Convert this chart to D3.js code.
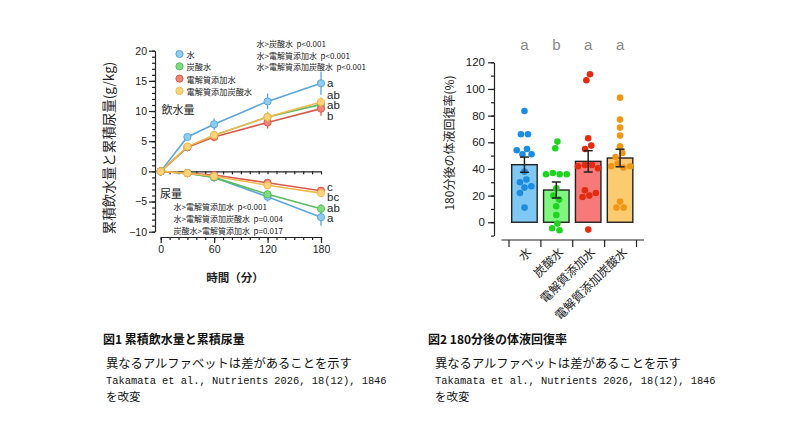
<!DOCTYPE html>
<html>
<head>
<meta charset="utf-8">
<script src="https://cdn.jsdelivr.net/npm/d3@7"></script>
<style>
  body { margin: 0; background: #fff; }
  svg { display: block; font-family: "Noto Sans CJK JP", "Noto Sans", sans-serif; }
  .axis path, .axis line { stroke: #222; stroke-width: 1.2; }
  .axis text { fill: #222; font-family: Arial, "Liberation Sans", sans-serif; }
</style>
</head>
<body>
<svg id="chart" width="810" height="427"></svg>
<script>
// ---- 図1 data ----
const times = [0, 30, 60, 120, 180];
const groups = ["水", "炭酸水", "電解質添加水", "電解質添加炭酸水"];

const drinkWater = [0, 5.7, 7.8, 11.6, 14.6];
const drinkSoda = [0, 4.0, 6.0, 9.0, 11.1];
const drinkElec = [0, 4.0, 5.7, 8.1, 10.4];
const drinkElecSoda = [0, 4.1, 6.0, 9.0, 11.5];

const drinkWaterSem = [0, 0.5, 1.0, 1.3, 1.9];
const drinkSodaSem = [0, 0.3, 0.6, 0.9, 0.9];
const drinkElecSem = [0, 0.3, 0.7, 1.0, 1.2];
const drinkElecSodaSem = [0, 0.3, 0.6, 0.8, 0.8];

const urineWater = [0, -0.3, -1.0, -4.2, -7.6];
const urineSoda = [0, -0.3, -1.0, -3.8, -6.2];
const urineElec = [0, -0.3, -0.6, -1.9, -3.2];
const urineElecSoda = [0, -0.3, -0.8, -2.3, -3.6];

const urineWaterSem = [0, 0.1, 0.3, 0.8, 1.4];
const urineSodaSem = [0, 0.1, 0.3, 0.6, 0.8];
const urineElecSem = [0, 0.1, 0.2, 0.4, 0.5];
const urineElecSodaSem = [0, 0.1, 0.2, 0.4, 0.5];

const drinkLetters = ["a", "ab", "b", "ab"];
const urineLetters = ["a", "ab", "c", "bc"];

const drinkStats = ["水>炭酸水  p<0.001", "水>電解質添加水  p<0.001", "水>電解質添加炭酸水  p<0.001"];
const urineStats = ["水>電解質添加水  p<0.001", "水>電解質添加炭酸水  p=0.004", "炭酸水>電解質添加水  p=0.017"];

// ---- 図2 data ----
const recoveryMean = [43.2, 24.2, 45.7, 48.2];
const recoverySem = [5.7, 6.0, 8.0, 6.6];
const recoveryLetters = ["a", "b", "a", "a"];
const recoveryWater = [83.5, 66, 66, 55, 54, 51, 51, 38, 32, 30, 27, 26, 22, 11];
const recoverySoda = [60.5, 55.5, 37, 36, 36, 36, 25.5, 20, 17, 12, 5.5, -1, -4.5, -6];
const recoveryElec = [111, 106.5, 63, 57.5, 55, 43, 43, 42, 40.5, 24, 22, 20, 19, -5.5];
const recoveryElecSoda = [93.5, 77, 71, 65, 57, 52, 49, 44, 42, 42, 41, 15.5, 11, 11];

const lineColors = ["#5ba6d8", "#5cbc60", "#d85c4b", "#f0b94e"];
const markerFills = ["#8fcdf0", "#80dc80", "#ef8676", "#fcd47c"];
const barFills = ["#7ec8f3", "#80f580", "#f87a78", "#fccb70"];
const dotColors = ["#1c8ce0", "#1fd41f", "#e32b12", "#ef9614"];

const svg = d3.select("#chart");

// ================= 図1 =================
const x1 = d3.scaleLinear().domain([0, 180]).range([160.7, 321]);
const y1 = d3.scaleLinear().domain([-10, 20]).range([231.7, 50.7]);

const drink = [drinkWater, drinkSoda, drinkElec, drinkElecSoda];
const drinkSem = [drinkWaterSem, drinkSodaSem, drinkElecSem, drinkElecSodaSem];
const urine = [urineWater, urineSoda, urineElec, urineElecSoda];
const urineSem = [urineWaterSem, urineSodaSem, urineElecSem, urineElecSodaSem];

const left = svg.append("g");

// y axis (offset to the left)
left.append("g").attr("class", "axis")
    .attr("transform", "translate(155,0)")
    .call(d3.axisLeft(y1).tickValues(d3.range(-10, 21, 1)).tickSize(3).tickFormat(""))
    .call(g => g.select(".domain").remove());
left.append("g").attr("class", "axis")
    .attr("transform", "translate(155,0)")
    .call(d3.axisLeft(y1).tickValues([-10, -5, 0, 5, 10, 15, 20]).tickSize(6).tickSizeOuter(0))
    .call(g => g.selectAll("text").attr("font-size", 10.5).attr("x", -8));

// x axis at zero line
left.append("g").attr("class", "axis")
    .attr("transform", `translate(0,${y1(0)})`)
    .call(d3.axisBottom(x1).tickValues(d3.range(0, 181, 10)).tickSize(3).tickSizeOuter(0).tickFormat(""));

// bottom x axis (offset below)
left.append("g").attr("class", "axis")
    .attr("transform", "translate(0,237)")
    .call(d3.axisBottom(x1).tickValues(d3.range(0, 181, 10)).tickSize(3).tickFormat(""))
    .call(g => g.select(".domain").remove());
left.append("g").attr("class", "axis")
    .attr("transform", "translate(0,237)")
    .call(d3.axisBottom(x1).tickValues([0, 60, 120, 180]).tickSize(6).tickSizeOuter(0))
    .call(g => g.selectAll("text").attr("font-size", 10.5).attr("y", 9));

left.append("text")
    .attr("transform", "translate(108,148) rotate(-90)")
    .attr("text-anchor", "middle").attr("dominant-baseline", "central")
    .attr("font-size", 13.5).attr("fill", "#222")
    .text("累積飲水量と累積尿量(g/kg)");

left.append("text")
    .attr("x", 235).attr("y", 282).attr("text-anchor", "middle")
    .attr("font-size", 11.5).attr("font-weight", "bold").attr("fill", "#222")
    .text("時間（分）");

function drawSeries(values, sems, i) {
    const pts = times.map((t, k) => ({ t: t, v: values[k], s: sems[k] }));
    const g = left.append("g");
    g.selectAll(".err").data(pts.filter(d => d.s > 0)).enter().append("line")
        .attr("x1", d => x1(d.t)).attr("x2", d => x1(d.t))
        .attr("y1", d => y1(d.v - d.s)).attr("y2", d => y1(d.v + d.s))
        .attr("stroke", lineColors[i]).attr("stroke-width", 1.3);
    g.append("path").datum(pts)
        .attr("d", d3.line().x(d => x1(d.t)).y(d => y1(d.v)))
        .attr("fill", "none").attr("stroke", lineColors[i]).attr("stroke-width", 1.6);
    g.selectAll("circle").data(pts).enter().append("circle")
        .attr("cx", d => x1(d.t)).attr("cy", d => y1(d.v)).attr("r", 3.6)
        .attr("fill", markerFills[i]).attr("stroke", lineColors[i]).attr("stroke-width", 1);
}

[0, 1, 2, 3].forEach(i => drawSeries(urine[i], urineSem[i], i));
[0, 1, 2, 3].forEach(i => drawSeries(drink[i], drinkSem[i], i));

// significance letters at 180 min, nudged apart
function placeLetters(values, letters, gap) {
    const items = values.map((v, i) => ({ y: y1(v[v.length - 1]), l: letters[i] }))
        .sort((a, b) => a.y - b.y);
    for (let it = 0; it < 80; it++) {
        for (let k = 1; k < items.length; k++) {
            const d = items[k].y - items[k - 1].y;
            if (d < gap) {
                const push = (gap - d) / 2;
                items[k].y += push;
                items[k - 1].y -= push;
            }
        }
    }
    left.selectAll(null).data(items).enter().append("text")
        .attr("x", x1(180) + 6).attr("y", d => d.y)
        .attr("dominant-baseline", "central")
        .attr("font-family", "Arial, 'Liberation Sans', sans-serif")
        .attr("font-size", 11.5).attr("fill", "#222")
        .text(d => d.l);
}
placeLetters(drink, drinkLetters, 10.5);
placeLetters(urine, urineLetters, 10.5);

// legend
const legend = left.append("g");
groups.forEach((name, i) => {
    const yy = 54 + i * 12.3;
    legend.append("circle").attr("cx", 179.5).attr("cy", yy).attr("r", 3.6)
        .attr("fill", markerFills[i]).attr("stroke", lineColors[i]).attr("stroke-width", 1);
    legend.append("text").attr("x", 186.5).attr("y", yy).attr("dominant-baseline", "central")
        .attr("font-size", 8.2).attr("fill", "#222").text(name);
});

left.append("text").attr("x", 161.5).attr("y", 109).attr("dominant-baseline", "central")
    .attr("font-size", 11).attr("fill", "#222").text("飲水量");
left.append("text").attr("x", 160).attr("y", 193).attr("dominant-baseline", "central")
    .attr("font-size", 11).attr("fill", "#222").text("尿量");

drinkStats.forEach((s, i) => {
    left.append("text").attr("x", 256.5).attr("y", 43.5 + i * 11.7).attr("dominant-baseline", "central")
        .attr("font-size", 8).attr("fill", "#222").attr("xml:space", "preserve").text(s);
});
urineStats.forEach((s, i) => {
    left.append("text").attr("x", 173.5).attr("y", 206.7 + i * 12).attr("dominant-baseline", "central")
        .attr("font-size", 8).attr("fill", "#222").attr("xml:space", "preserve").text(s);
});

// ================= 図2 =================
const y2 = d3.scaleLinear().domain([-10, 120]).range([235.6, 62.3]);
const xi = d3.scaleLinear().domain([0, 4]).range([508.5, 636]);
const step = xi(1) - xi(0);
const barW = step * 0.8;

const right = svg.append("g");

right.append("g").attr("class", "axis")
    .attr("transform", "translate(494,0)")
    .call(d3.axisLeft(y2).tickValues(d3.range(-10, 121, 10)).tickSize(3).tickFormat(""))
    .call(g => g.select(".domain").remove());
right.append("g").attr("class", "axis")
    .attr("transform", "translate(494,0)")
    .call(d3.axisLeft(y2).tickValues(d3.range(0, 121, 20)).tickSize(6).tickSizeOuter(0))
    .call(g => g.selectAll("text").attr("font-size", 11.5).attr("x", -9));

const xAxis = right.append("g").attr("class", "axis")
    .attr("transform", "translate(0,240)")
    .call(d3.axisBottom(xi).tickValues([0, 1, 2, 3, 4]).tickSize(7).tickFormat(""))
    .call(g => g.select(".domain").remove());
xAxis.append("line").attr("x1", xi(0) - 7).attr("x2", xi(4) + 8)
    .attr("stroke", "#222").attr("stroke-width", 1.2);

right.selectAll(".xlab").data(groups).enter().append("text")
    .attr("transform", (d, i) => `translate(${xi(i + 0.5) + 4},249) rotate(-45)`)
    .attr("text-anchor", "end").attr("dominant-baseline", "central")
    .attr("font-size", 12).attr("fill", "#222")
    .text(d => d);

right.append("text")
    .attr("transform", "translate(448,143) rotate(-90)")
    .attr("text-anchor", "middle").attr("dominant-baseline", "central")
    .attr("font-size", 12).attr("fill", "#222")
    .text("180分後の体液回復率(%)");

// bars
right.selectAll(".bar").data(recoveryMean).enter().append("rect")
    .attr("x", (d, i) => xi(i + 0.5) - barW / 2).attr("width", barW)
    .attr("y", d => y2(d)).attr("height", d => y2(0) - y2(d))
    .attr("fill", (d, i) => barFills[i]).attr("stroke", "#222").attr("stroke-width", 1.4);

// dots: small beeswarm from a force layout, y fixed to the value
const recovery = [recoveryWater, recoverySoda, recoveryElec, recoveryElecSoda];
const dotR = 3.3;
recovery.forEach((vals, i) => {
    const cx = xi(i + 0.5);
    const nodes = vals.map(v => ({ v: v, fy: y2(v) }));
    const sim = d3.forceSimulation(nodes)
        .force("x", d3.forceX(0).strength(0.08))
        .force("collide", d3.forceCollide(dotR + 0.2))
        .stop();
    for (let k = 0; k < 300; k++) sim.tick();
    right.selectAll(null).data(nodes).enter().append("circle")
        .attr("cx", d => cx + d.x).attr("cy", d => y2(d.v)).attr("r", dotR)
        .attr("fill", dotColors[i]);
});

// error bars (mean ± SEM)
recoveryMean.forEach((m, i) => {
    const cx = xi(i + 0.5);
    const s = recoverySem[i];
    const g = right.append("g").attr("stroke", "#222").attr("stroke-width", 1.5);
    g.append("line").attr("x1", cx).attr("x2", cx).attr("y1", y2(m - s)).attr("y2", y2(m + s));
    g.append("line").attr("x1", cx - 4.5).attr("x2", cx + 4.5).attr("y1", y2(m - s)).attr("y2", y2(m - s));
    g.append("line").attr("x1", cx - 4.5).attr("x2", cx + 4.5).attr("y1", y2(m + s)).attr("y2", y2(m + s));
});

right.selectAll(".sig").data(recoveryLetters).enter().append("text")
    .attr("x", (d, i) => xi(i + 0.5)).attr("y", 50)
    .attr("text-anchor", "middle")
    .attr("font-family", "Arial, 'Liberation Sans', sans-serif")
    .attr("font-size", 15).attr("fill", "#888")
    .text(d => d);

// ================= captions =================
function caption(x, title, xBody) {
    svg.append("text").attr("x", x).attr("y", 344)
        .attr("font-size", 12).attr("font-weight", "bold").attr("fill", "#111").text(title);
    svg.append("text").attr("x", xBody).attr("y", 368)
        .attr("font-size", 12.3).attr("fill", "#111").text("異なるアルファベットは差があることを示す");
    svg.append("text").attr("x", xBody).attr("y", 384)
        .attr("font-family", "'Liberation Mono', 'DejaVu Sans Mono', monospace")
        .attr("font-size", 10.4).attr("fill", "#111").text("Takamata et al., Nutrients 2026, 18(12), 1846");
    svg.append("text").attr("x", xBody).attr("y", 401)
        .attr("font-size", 11.5).attr("fill", "#111").text("を改変");
}
caption(103, "図1 累積飲水量と累積尿量", 106);
caption(428, "図2 180分後の体液回復率", 435);
</script>
</body>
</html>
